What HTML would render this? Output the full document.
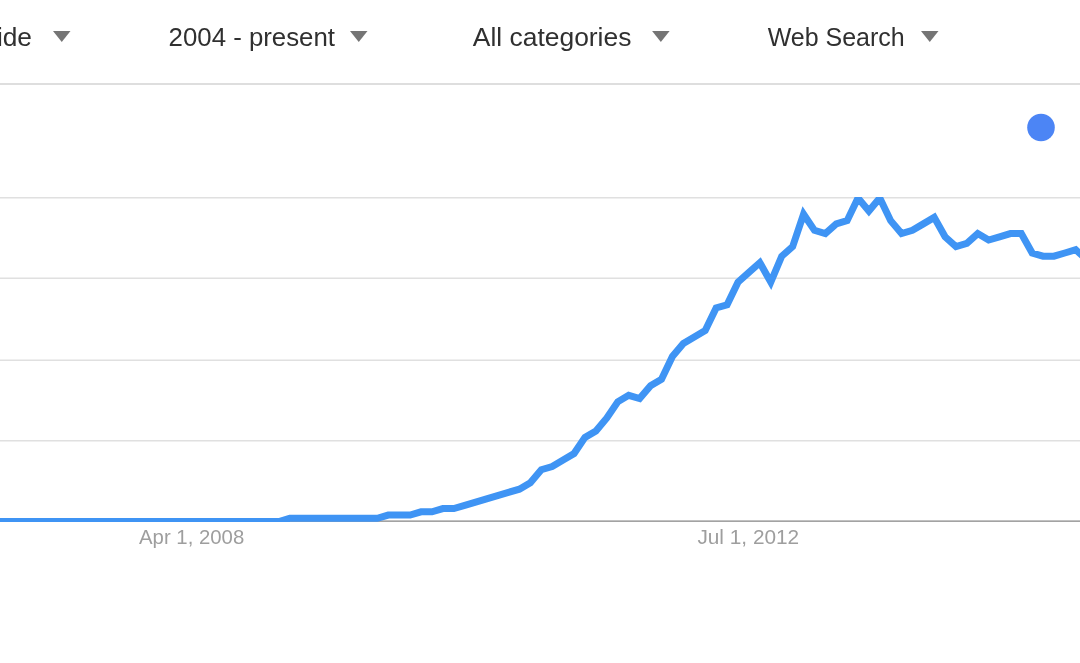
<!DOCTYPE html>
<html lang="en">
<head>
<meta charset="utf-8">
<title>Interest over time</title>
<style>
html,body{margin:0;padding:0;background:#fff;}
body{width:1080px;height:663px;overflow:hidden;position:relative;font-family:"Liberation Sans",sans-serif;}
svg{position:absolute;left:0;top:0;display:block;}
.top{font-family:"Liberation Sans",sans-serif;font-size:26.3px;fill:#303030;}
.ax{font-family:"Liberation Sans",sans-serif;font-size:20.7px;fill:#9e9e9e;}
</style>
</head>
<body>
<svg width="1080" height="663" viewBox="0 0 1080 663">
  <defs><clipPath id="ca"><rect x="0" y="197" width="1080" height="325"/></clipPath></defs>
  <!-- toolbar -->
  <text class="top" x="32" y="46.2" text-anchor="end">Worldwide</text>
  <polygon points="53,30.9 70.5,30.9 61.75,42" fill="#757575"/>
  <text class="top" x="168.6" y="46.2" textLength="166.4" lengthAdjust="spacingAndGlyphs">2004 - present</text>
  <polygon points="350,30.9 367.5,30.9 358.75,42" fill="#757575"/>
  <text class="top" x="472.8" y="46.2" textLength="158.6" lengthAdjust="spacingAndGlyphs">All categories</text>
  <polygon points="652.1,30.9 669.6,30.9 660.85,42" fill="#757575"/>
  <text class="top" x="767.7" y="46.2" textLength="137.0" lengthAdjust="spacingAndGlyphs">Web Search</text>
  <polygon points="921,30.9 938.5,30.9 929.75,42" fill="#757575"/>
  <rect x="0" y="83" width="1080" height="2" fill="#dedede"/>
  <!-- legend dot -->
  <circle cx="1041" cy="127.5" r="13.8" fill="#4c85f5"/>
  <!-- gridlines -->
  <rect x="0" y="197" width="1080" height="1.5" fill="#e0e0e0"/>
  <rect x="0" y="277.5" width="1080" height="1.5" fill="#e0e0e0"/>
  <rect x="0" y="359.5" width="1080" height="1.5" fill="#e0e0e0"/>
  <rect x="0" y="440" width="1080" height="1.5" fill="#e0e0e0"/>
  <rect x="0" y="520.4" width="1080" height="1.5" fill="#999999"/>
  <!-- series -->
  <polyline clip-path="url(#ca)" fill="none" stroke="#3f94f4" stroke-width="7" stroke-linejoin="miter" points="-16.17,521.50 -5.24,521.50 5.69,521.50 16.62,521.50 27.55,521.50 38.48,521.50 49.41,521.50 60.34,521.50 71.27,521.50 82.20,521.50 93.13,521.50 104.06,521.50 114.99,521.50 125.92,521.50 136.85,521.50 147.78,521.50 158.71,521.50 169.64,521.50 180.57,521.50 191.50,521.50 202.43,521.50 213.36,521.50 224.29,521.50 235.22,521.50 246.15,521.50 257.08,521.50 268.01,521.50 278.94,521.50 289.87,518.26 300.80,518.26 311.73,518.26 322.66,518.26 333.59,518.26 344.52,518.26 355.45,518.26 366.38,518.26 377.31,518.26 388.24,515.03 399.17,515.03 410.10,515.03 421.03,511.80 431.96,511.80 442.89,508.56 453.82,508.56 464.75,505.32 475.68,502.09 486.61,498.86 497.54,495.62 508.47,492.38 519.40,489.15 530.33,482.68 541.26,469.74 552.19,466.50 563.12,460.04 574.05,453.56 584.98,437.39 595.91,430.92 606.84,417.98 617.77,401.81 628.70,395.34 639.63,398.57 650.56,385.63 661.49,379.16 672.42,356.51 683.35,343.58 694.28,337.11 705.21,330.63 716.14,307.99 727.07,304.75 738.00,282.11 748.93,272.40 759.86,262.70 770.79,282.11 781.72,256.23 792.65,246.53 803.58,214.18 814.47,230.35 825.35,233.59 836.24,223.88 847.12,220.65 858.00,198.00 868.89,210.94 879.77,198.00 890.66,220.65 901.54,233.59 912.43,230.35 923.31,223.88 934.20,217.41 945.08,236.82 955.97,246.53 966.86,243.29 977.74,233.59 988.62,240.06 999.51,236.82 1010.39,233.59 1021.28,233.59 1032.17,253.00 1043.05,256.23 1053.93,256.23 1064.82,253.00 1075.70,249.76 1086.59,259.47"/>
  <!-- axis labels -->
  <text class="ax" x="139.0" y="543.65" textLength="105.2" lengthAdjust="spacingAndGlyphs">Apr 1, 2008</text>
  <text class="ax" x="697.4" y="543.65" textLength="101.8" lengthAdjust="spacingAndGlyphs">Jul 1, 2012</text>
</svg>
</body>
</html>
